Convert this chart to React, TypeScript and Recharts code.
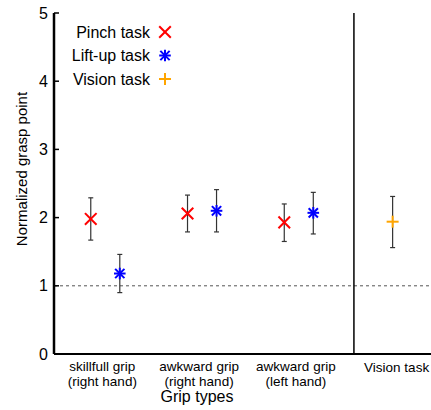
import {
  ComposedChart,
  Scatter,
  XAxis,
  YAxis,
  ErrorBar,
  ReferenceLine,
  Label,
} from "recharts";

// ---------------------------------------------------
// DATA
// ---------------------------------------------------
const gripTicks = [1, 2, 3, 4];
const gripLabels = [
  ["skillfull grip", "(right hand)"],
  ["awkward grip", "(right hand)"],
  ["awkward grip", "(left hand)"],
  ["Vision task", ""],
];
const yTicks = [0, 1, 2, 3, 4, 5];

// pinch task (red x)
const pinchX = [0.88, 1.88, 2.88];
const pinchMean = [1.98, 2.06, 1.93];
const pinchLow = [1.67, 1.79, 1.65];
const pinchHigh = [2.29, 2.33, 2.2];

// lift-up task (blue *)
const liftX = [1.18, 2.18, 3.18];
const liftMean = [1.18, 2.1, 2.07];
const liftLow = [0.9, 1.79, 1.76];
const liftHigh = [1.46, 2.41, 2.37];

// vision task (orange +)
const visionX = [4];
const visionMean = [1.94];
const visionLow = [1.56];
const visionHigh = [2.31];

const baselineValue = 1;
const separatorX = 3.6;

const FONT = '"Liberation Sans", Arial, Helvetica, sans-serif';

function toRows(xs: number[], mean: number[], low: number[], high: number[]) {
  return xs.map((x, i) => ({
    x,
    y: mean[i],
    err: [mean[i] - low[i], high[i] - mean[i]],
  }));
}

const pinchRows = toRows(pinchX, pinchMean, pinchLow, pinchHigh);
const liftRows = toRows(liftX, liftMean, liftLow, liftHigh);
const visionRows = toRows(visionX, visionMean, visionLow, visionHigh);

const series = [
  { name: "Pinch task", kind: "x", color: "#FF0000" },
  { name: "Lift-up task", kind: "star", color: "#0000FF" },
  { name: "Vision task", kind: "plus", color: "#FFA500" },
];

// ---------------------------------------------------
// MARKERS
// ---------------------------------------------------
function Mark({ kind, cx, cy, color }: any) {
  const s = 5.8;
  const sw = 2;
  if (kind === "x") {
    return (
      <g stroke={color} strokeWidth={sw}>
        <line x1={cx - s} y1={cy - s} x2={cx + s} y2={cy + s} />
        <line x1={cx - s} y1={cy + s} x2={cx + s} y2={cy - s} />
      </g>
    );
  }
  if (kind === "star") {
    const d = s * 0.8;
    return (
      <g stroke={color} strokeWidth={sw}>
        <line x1={cx - s} y1={cy} x2={cx + s} y2={cy} />
        <line x1={cx} y1={cy - s} x2={cx} y2={cy + s} />
        <line x1={cx - d} y1={cy - d} x2={cx + d} y2={cy + d} />
        <line x1={cx - d} y1={cy + d} x2={cx + d} y2={cy - d} />
      </g>
    );
  }
  return (
    <g stroke={color} strokeWidth={sw}>
      <line x1={cx - 6} y1={cy} x2={cx + 6} y2={cy} />
      <line x1={cx} y1={cy - 6} x2={cx} y2={cy + 6} />
    </g>
  );
}

// ---------------------------------------------------
// AXIS TICKS
// ---------------------------------------------------
function YTick({ x, y, payload }: any) {
  return (
    <g>
      <text x={x} y={y + 5.5} textAnchor="end" fontSize={16} fill="#000" fontFamily={FONT}>
        {payload.value}
      </text>
      <line x1={x + 6} y1={y} x2={x + 11} y2={y} stroke="#000" strokeWidth={1.5} />
    </g>
  );
}

function GripTick({ x, y, payload }: any) {
  const lines = gripLabels[gripTicks.indexOf(payload.value)] || ["", ""];
  // single-line label sits a little right of its tick in the original
  const dx = lines[1] ? 0 : 4;
  return (
    <text x={x + dx} y={y} textAnchor="middle" fontSize={13.5} fill="#000" fontFamily={FONT}>
      <tspan x={x + dx} dy={lines[1] ? 17 : 18}>
        {lines[0]}
      </tspan>
      <tspan x={x + dx} dy={15}>
        {lines[1]}
      </tspan>
    </text>
  );
}

// ---------------------------------------------------
// MAIN COMPONENT
// ---------------------------------------------------
export default function App() {
  return (
    <div
      style={{
        position: "absolute",
        left: 0,
        top: 0,
        width: 431,
        height: 410,
        overflow: "hidden",
        background: "#fff",
        fontFamily: FONT,
      }}
    >
      <ComposedChart
        width={446}
        height={410}
        margin={{ top: 13, right: 5, left: 0, bottom: 0 }}
      >
        <XAxis
          type="number"
          dataKey="x"
          domain={[0.5, 4.5]}
          ticks={gripTicks}
          interval={0}
          height={56}
          axisLine={{ stroke: "#000", strokeWidth: 2 }}
          tickLine={false}
          tickSize={0}
          tickMargin={0}
          tick={<GripTick />}
        >
          <Label
            content={() => (
              <text x={197} y={402} textAnchor="middle" fontSize={16} fill="#000" fontFamily={FONT}>
                Grip types
              </text>
            )}
          />
        </XAxis>
        <XAxis
          xAxisId="top"
          orientation="top"
          type="number"
          dataKey="x"
          domain={[0.5, 4.5]}
          ticks={gripTicks}
          interval={0}
          height={0}
          mirror
          axisLine={{ stroke: "#000", strokeWidth: 2 }}
          tickLine={{ stroke: "#000", strokeWidth: 1.5 }}
          tickSize={5}
          tick={() => <g />}
        />
        <YAxis
          type="number"
          dataKey="y"
          domain={[0, 5]}
          ticks={yTicks}
          interval={0}
          width={54}
          axisLine={{ stroke: "#000", strokeWidth: 2.5 }}
          tickLine={false}
          tickSize={0}
          tickMargin={6}
          tick={<YTick />}
        >
          <Label
            content={() => (
              <text
                transform="translate(27,169) rotate(-90)"
                x={0}
                y={0}
                textAnchor="middle"
                fontSize={15}
                fill="#000"
                fontFamily={FONT}
              >
                Normalized grasp point
              </text>
            )}
          />
        </YAxis>

        <ReferenceLine y={baselineValue} stroke="#555" strokeDasharray="3 3" strokeWidth={1} />
        <ReferenceLine x={separatorX} stroke="#000" strokeWidth={1.5} />

        <Scatter
          data={pinchRows}
          dataKey="y"
          isAnimationActive={false}
          shape={(p: any) => <Mark kind="x" cx={p.cx} cy={p.cy} color={series[0].color} />}
        >
          <ErrorBar dataKey="err" direction="y" width={2.5} stroke="#333" strokeWidth={1.2} />
        </Scatter>
        <Scatter
          data={liftRows}
          dataKey="y"
          isAnimationActive={false}
          shape={(p: any) => <Mark kind="star" cx={p.cx} cy={p.cy} color={series[1].color} />}
        >
          <ErrorBar dataKey="err" direction="y" width={2.5} stroke="#333" strokeWidth={1.2} />
        </Scatter>
        <Scatter
          data={visionRows}
          dataKey="y"
          isAnimationActive={false}
          shape={(p: any) => <Mark kind="plus" cx={p.cx} cy={p.cy} color={series[2].color} />}
        >
          <ErrorBar dataKey="err" direction="y" width={2.5} stroke="#333" strokeWidth={1.2} />
        </Scatter>
      </ComposedChart>

      {/* LEGEND */}
      <svg
        width={200}
        height={100}
        style={{ position: "absolute", left: 0, top: 0, pointerEvents: "none" }}
      >
        {series.map((s, i) => {
          const cy = 32 + i * 23.5;
          return (
            <g key={s.name}>
              <text x={150} y={cy + 5.7} textAnchor="end" fontSize={16} fill="#000" fontFamily={FONT}>
                {s.name}
              </text>
              <Mark kind={s.kind} cx={165} cy={cy} color={s.color} />
            </g>
          );
        })}
      </svg>
    </div>
  );
}
